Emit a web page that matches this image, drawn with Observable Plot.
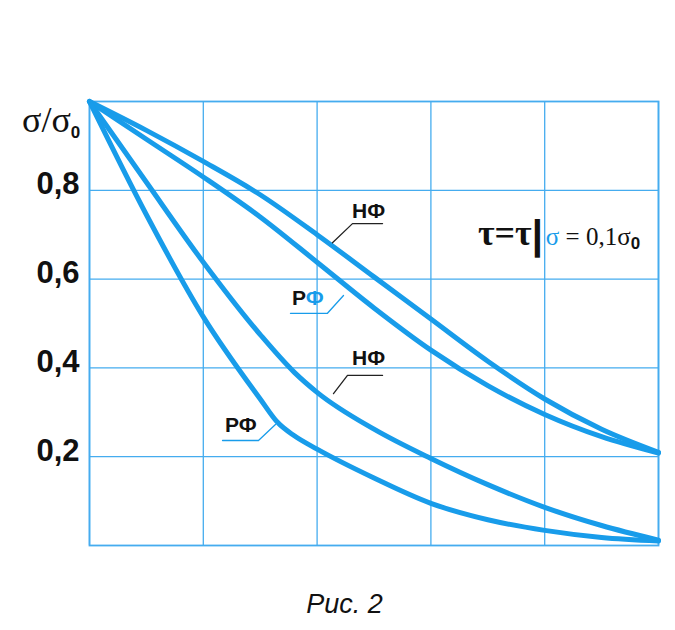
<!DOCTYPE html>
<html><head><meta charset="utf-8">
<script src="https://cdn.jsdelivr.net/npm/d3@7"></script>
<script src="https://cdn.jsdelivr.net/npm/@observablehq/plot@0.6"></script>
<style>
body{margin:0;background:#fff;width:675px;height:630px;overflow:hidden;}
#cap{font-family:"Liberation Sans",Arial,sans-serif;font-style:italic;font-size:27px;line-height:68px;text-align:center;padding-left:14px;color:#111;}
</style></head><body>
<div id="chart"></div><div id="cap">Рис. 2</div>
<script>
// ---- data (x in grid units 0..5, y = σ/σ0) ----
const nfUpperX = [0,0.5,1,1.5,2,2.5,3,3.5,4,4.5,5];
const nfUpperY = [1,0.935,0.865,0.79,0.70,0.605,0.51,0.415,0.33,0.262,0.21];
const rfUpperX = [0,0.5,1,1.5,2,2.5,3,3.5,4,4.5,5];
const rfUpperY = [1,0.915,0.83,0.74,0.638,0.535,0.44,0.36,0.295,0.245,0.208];
const nfLowerX = [0,0.5,1,1.5,1.8,2,2.5,3,3.5,4,4.5,5];
const nfLowerY = [1,0.818,0.638,0.475,0.39,0.345,0.262,0.196,0.137,0.086,0.045,0.012];
const rfLowerX = [0,0.5,1,1.5,1.65,1.8,2,2.5,3,3.5,4,4.5,5];
const rfLowerY = [1,0.745,0.515,0.33,0.278,0.247,0.217,0.152,0.095,0.058,0.034,0.018,0.01];
const xGrid = [0,1,2,3,4,5];
const yTicks = [0.2,0.4,0.6,0.8];
const yTickLabels = ["0,2","0,4","0,6","0,8"];
// annotation labels [text..., x, y] and leader polylines (data units)
const labelNF1 = ["НФ", 2.311, 0.736];
const labelRF1 = ["Р", "Ф", 1.784, 0.541];
const labelNF2 = ["НФ", 2.311, 0.405];
const labelRF2 = ["РФ", 1.195, 0.2545];
const leaderNF1 = [[2.135,0.682],[2.311,0.725],[2.575,0.725]];
const leaderRF1 = [[1.766,0.523],[2.091,0.523],[2.232,0.563]];
const leaderNF2 = [[2.144,0.342],[2.267,0.383],[2.575,0.383]];
const leaderRF2 = [[1.634,0.2725],[1.485,0.2365],[1.169,0.2365]];
const formulaPos = [3.418, 0.676];
const yLabelPos = [-0.589, 0.93];

// ---- build tables ----
const curves = [
  ["НФ1", nfUpperX, nfUpperY], ["РФ1", rfUpperX, rfUpperY],
  ["НФ2", nfLowerX, nfLowerY], ["РФ2", rfLowerX, rfLowerY]
];
const rows = curves.flatMap(([s, X, Y]) => X.map((x, i) => ({s, x, y: Y[i]})));
const blackLeaders = [["a", leaderNF1], ["b", leaderNF2]].flatMap(([k, pts]) => pts.map(([x, y]) => ({k, x, y})));
const blueLeaders = [["c", leaderRF1], ["d", leaderRF2]].flatMap(([k, pts]) => pts.map(([x, y]) => ({k, x, y})));

const blue = "#189cea";
const gridC = "#45acef";

const plot = Plot.plot({
  width: 675, height: 570,
  marginTop: 101, marginBottom: 25, marginLeft: 89, marginRight: 17,
  x: {domain: [0, 5], axis: null},
  y: {domain: [0, 1], axis: null},
  style: {fontFamily: "'Liberation Sans', Arial, sans-serif", background: "#fff", overflow: "visible"},
  marks: [
    Plot.gridX(xGrid, {stroke: gridC, strokeOpacity: 1, strokeWidth: 1.3}),
    Plot.gridY(yTicks, {stroke: gridC, strokeOpacity: 1, strokeWidth: 1.3}),
    Plot.frame({stroke: gridC, strokeWidth: 1.8}),
    Plot.axisY({ticks: yTicks, tickSize: 0, tickPadding: 10, fontSize: 31, fontWeight: "bold", dy: -6,
      fill: "#111", label: null, tickFormat: d => yTickLabels[yTicks.indexOf(d)]}),
    Plot.line(rows, {x: "x", y: "y", z: "s", stroke: blue, strokeWidth: 5, curve: "monotone-x", strokeLinecap: "round"}),
    Plot.line(blackLeaders, {x: "x", y: "y", z: "k", stroke: "#222", strokeWidth: 1.3}),
    Plot.line(blueLeaders, {x: "x", y: "y", z: "k", stroke: blue, strokeWidth: 1.3})
  ]
});
document.getElementById("chart").appendChild(plot);

const sx = plot.scale("x"), sy = plot.scale("y");
const svg = d3.select(plot);
const sans = "'Liberation Sans', Arial, sans-serif";
const serif = "'Liberation Serif', 'Times New Roman', serif";

function label(parts, x, y) {
  const t = svg.append("text").attr("x", sx.apply(x)).attr("y", sy.apply(y))
    .attr("text-anchor", "start")
    .attr("font-family", sans).attr("font-weight", "bold").attr("font-size", 21);
  parts.forEach(([s, c]) => t.append("tspan").attr("fill", c).text(s));
}
label([[labelNF1[0], "#111"]], labelNF1[1], labelNF1[2]);
label([[labelRF1[0], "#111"], [labelRF1[1], blue]], labelRF1[2], labelRF1[3]);
label([[labelNF2[0], "#111"]], labelNF2[1], labelNF2[2]);
label([[labelRF2[0], "#111"]], labelRF2[1], labelRF2[2]);

// formula τ=τ|σ = 0,1σ0
const f = svg.append("text").attr("x", sx.apply(formulaPos[0])).attr("y", sy.apply(formulaPos[1]))
  .attr("text-anchor", "start").attr("fill", "#111");
f.append("tspan").attr("font-family", serif).attr("font-weight", "bold").attr("font-size", 36).text("τ=τ");
f.append("tspan").attr("font-family", sans).attr("font-weight", "bold").attr("font-size", 40).attr("dy", 4).text("|");
f.append("tspan").attr("font-family", serif).attr("font-size", 25).attr("fill", blue).attr("dx", 3).attr("dy", -4).text("σ");
f.append("tspan").attr("font-family", serif).attr("font-size", 25).text(" = 0,1σ");
f.append("tspan").attr("font-family", sans).attr("font-weight", "bold").attr("font-size", 17).attr("dy", 4).text("0");

// y label σ/σ0
const yl = svg.append("text").attr("x", sx.apply(yLabelPos[0])).attr("y", sy.apply(yLabelPos[1]))
  .attr("text-anchor", "start").attr("fill", "#111");
yl.append("tspan").attr("font-family", serif).attr("font-size", 36).text("σ/σ");
yl.append("tspan").attr("font-family", sans).attr("font-weight", "bold").attr("font-size", 17).attr("dy", 6).text("0");
</script>
</body></html>
